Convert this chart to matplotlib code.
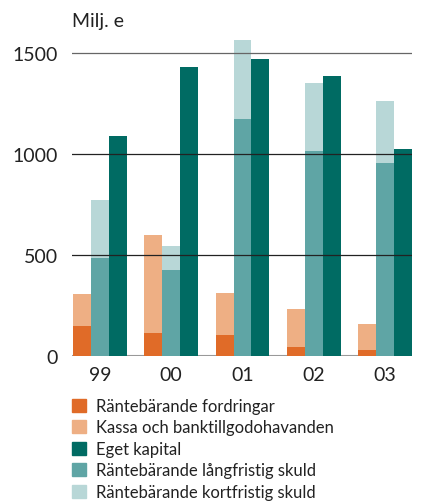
import numpy as np
import matplotlib.pyplot as plt
from matplotlib.patches import Patch

plt.rcParams['font.family'] = ['Lato', 'DejaVu Sans']

# Data (Milj. e)
years = ['99', '00', '01', '02', '03']
fordringar = [148, 114, 104, 45, 30]          # Räntebärande fordringar
kassa = [159, 485, 208, 188, 128]             # Kassa och banktillgodohavanden (stacked on fordringar)
langfristig = [485, 426, 1173, 1015, 955]     # Räntebärande långfristig skuld
kortfristig = [287, 119, 391, 336, 307]       # Räntebärande kortfristig skuld (stacked)
eget_kapital = [1089, 1431, 1470, 1386, 1025]

c_ford = '#E06B28'
c_kassa = '#EEAF84'
c_eget = '#006B63'
c_lang = '#5FA5A5'
c_kort = '#B8D7D7'

fig = plt.figure(figsize=(4.27, 5.02), dpi=100)
ax = fig.add_axes([72/427, 0.2888, 340/427, 0.6434])

x = np.arange(len(years))
w = 0.2525
ax.bar(x - w, fordringar, w, color=c_ford, zorder=2)
ax.bar(x - w, kassa, w, bottom=fordringar, color=c_kassa, zorder=2)
ax.bar(x, langfristig, w, color=c_lang, zorder=2)
ax.bar(x, kortfristig, w, bottom=langfristig, color=c_kort, zorder=2)
ax.bar(x + w, eget_kapital, w, color=c_eget, zorder=2)

ax.set_xlim(-0.393, 4.379)
ax.set_ylim(0, 1600)
for y, c in [(500, '#222222'), (1000, '#222222'), (1500, '#666666')]:
    ax.axhline(y, color=c, lw=0.9, zorder=3)
ax.axhline(0, color='#999999', lw=1.5, zorder=1)

for s in ax.spines.values():
    s.set_visible(False)
ax.set_yticks([0, 500, 1000, 1500])
ax.set_xticks(x)
ax.set_xticklabels(years)
ax.tick_params(length=0, labelsize=14, colors='#222222')
ax.tick_params(axis='y', pad=10)
ax.tick_params(axis='x', pad=7)

fig.text(72/427, 1 - 22/502, 'Milj. e', fontsize=14, color='#222222', va='center', ha='left')

handles = [Patch(color=c_ford), Patch(color=c_kassa), Patch(color=c_eget),
           Patch(color=c_lang), Patch(color=c_kort)]
labels = ['Räntebärande fordringar', 'Kassa och banktillgodohavanden', 'Eget kapital',
          'Räntebärande långfristig skuld', 'Räntebärande kortfristig skuld']
fig.legend(handles, labels, loc='upper left', bbox_to_anchor=(72/427, 1 - 399/502),
           frameon=False, fontsize=12, handlelength=0.85, handleheight=0.85,
           handletextpad=0.6, labelspacing=0.33, borderaxespad=0, borderpad=0,
           labelcolor='#222222')

fig.savefig('out.png', dpi=100)
